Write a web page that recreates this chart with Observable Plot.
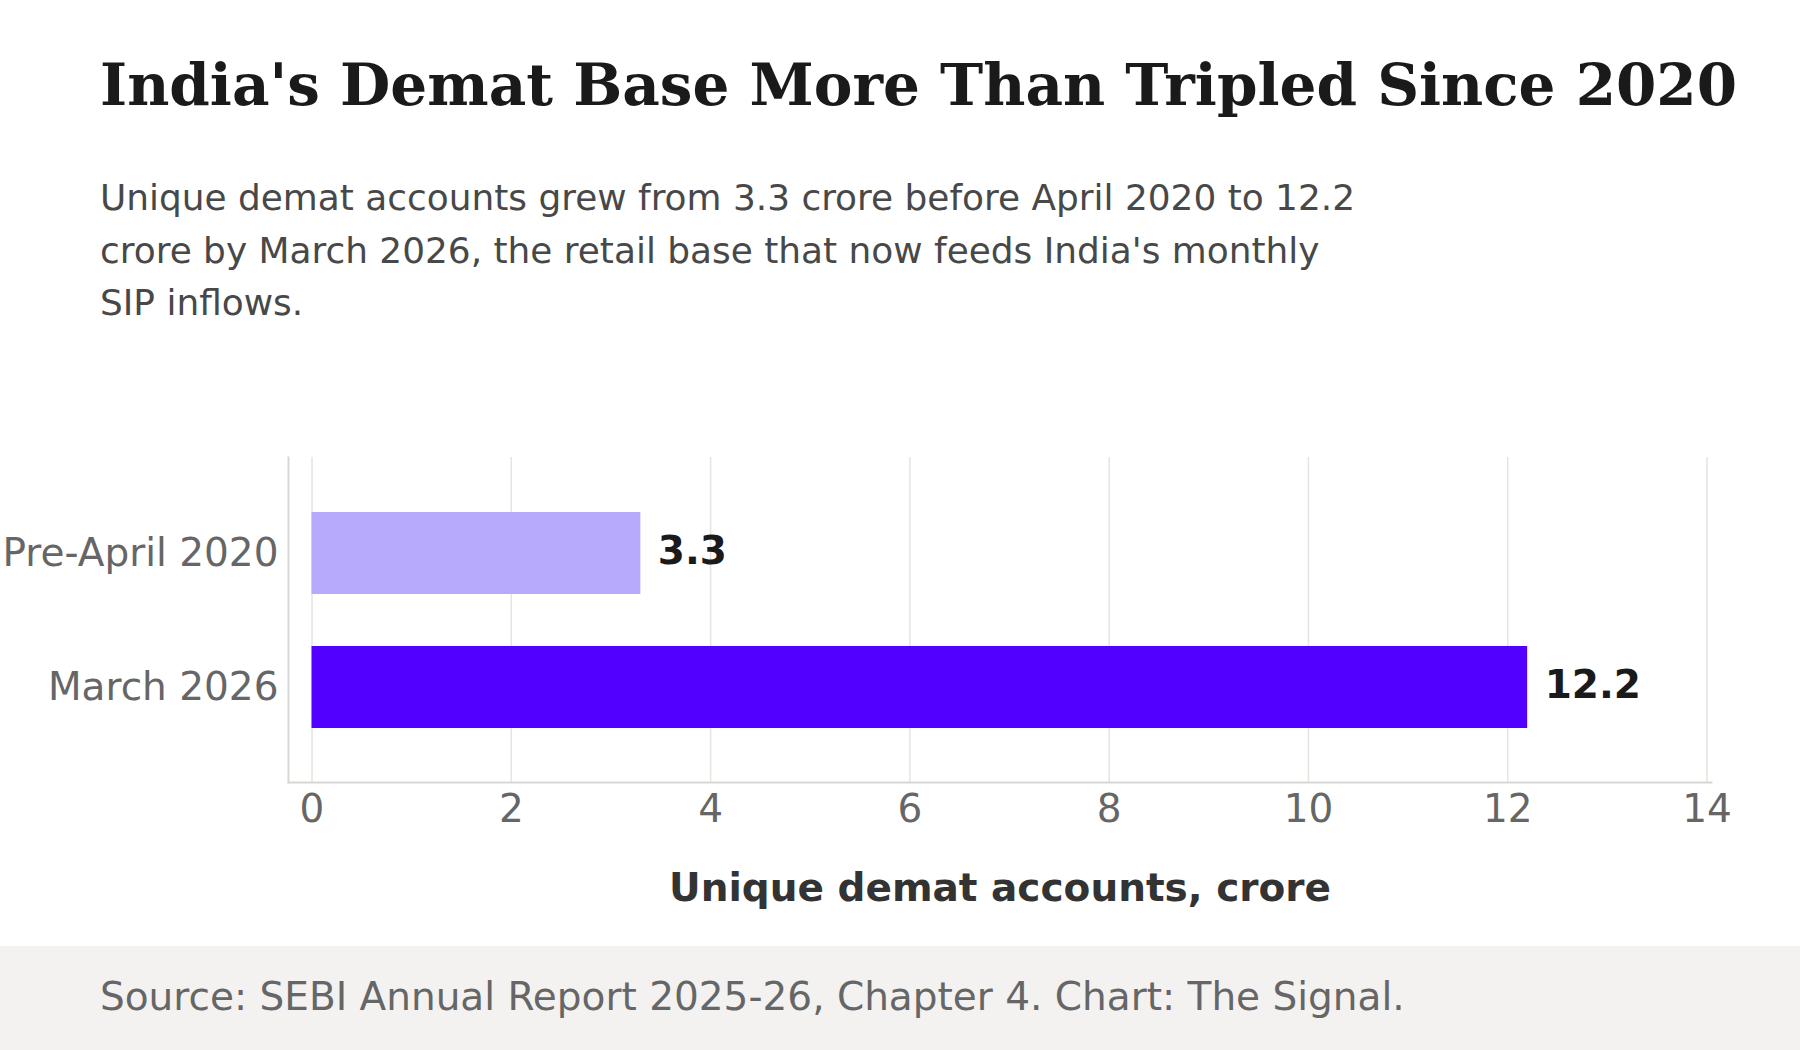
<!DOCTYPE html>
<html>
<head>
<meta charset="utf-8">
<script src="https://cdn.jsdelivr.net/npm/d3@7"></script>
<script src="https://cdn.jsdelivr.net/npm/@observablehq/plot@0.6"></script>
<style>
  html, body { margin: 0; padding: 0; background: #ffffff; }
  #page { position: relative; width: 1800px; height: 1050px; overflow: hidden; background: #ffffff; }
  #title { position: absolute; left: 100px; top: 55px; font-family: "DejaVu Serif", serif; font-weight: bold;
           font-size: 58px; line-height: 60px; color: #1a1a1a; white-space: nowrap; }
  #subtitle { position: absolute; left: 100px; top: 172px; font-family: "DejaVu Sans", sans-serif;
              font-size: 35.9px; line-height: 52.5px; color: #484848; white-space: nowrap; }
  #chart { position: absolute; left: 0; top: 400px; }
  #footer { position: absolute; left: 0; top: 946px; width: 1800px; height: 104px; background: #f3f2f1; }
  #source { position: absolute; left: 100px; top: 31px; font-family: "DejaVu Sans", sans-serif;
            font-size: 39px; line-height: 39px; color: #666666; white-space: nowrap; }
</style>
</head>
<body>
<div id="page">
  <div id="title">India's Demat Base More Than Tripled Since 2020</div>
  <div id="subtitle">Unique demat accounts grew from 3.3 crore before April 2020 to 12.2<br>crore by March 2026, the retail base that now feeds India's monthly<br>SIP inflows.</div>
  <div id="chart"></div>
  <div id="footer"><div id="source">Source: SEBI Annual Report 2025-26, Chapter 4. Chart: The Signal.</div></div>
</div>
<script>
const categories = ["Pre-April 2020", "March 2026"];
const values = [3.3, 12.2];
const barColors = ["#b7a9fc", "#5200ff"];
const xTicks = [0, 2, 4, 6, 8, 10, 12, 14];
const xDomain = [-0.236, 14.045];
const xLabel = "Unique demat accounts, crore";

const data = categories.map((c, i) => ({category: c, value: values[i]}));

const chart = Plot.plot({
  width: 1800,
  height: 546,
  marginTop: 57,
  marginBottom: 164,
  marginLeft: 288,
  marginRight: 89,
  style: {fontFamily: "DejaVu Sans, sans-serif", fontSize: "39px", color: "#666666", background: "transparent", overflow: "visible"},
  x: {domain: xDomain, ticks: xTicks, tickSize: 0, tickPadding: 12, tickFormat: d => String(d), label: null},
  y: {domain: categories, paddingInner: 0.39, paddingOuter: 0.4, tickSize: 0, tickPadding: 10, label: null},
  color: {domain: categories, range: barColors},
  marks: [
    Plot.ruleX(xTicks, {stroke: "#e4e4e0", strokeWidth: 1.5}),
    Plot.frame({anchor: "left", stroke: "#d8d8d2", strokeWidth: 2}),
    Plot.frame({anchor: "bottom", stroke: "#d8d8d2", strokeWidth: 2}),
    Plot.barX(data, {x: "value", y: "category", fill: "category"}),
    Plot.text(data, {x: "value", y: "category", text: d => d.value.toFixed(1), dx: 17, dy: -2, textAnchor: "start",
                     fontWeight: "bold", fill: "#1a1a1a", fontSize: 39}),
    Plot.text([xLabel], {frameAnchor: "bottom", text: d => d, dy: 118, fontWeight: "bold", fill: "#333333", fontSize: 39})
  ]
});
document.getElementById("chart").appendChild(chart);
</script>
</body>
</html>
